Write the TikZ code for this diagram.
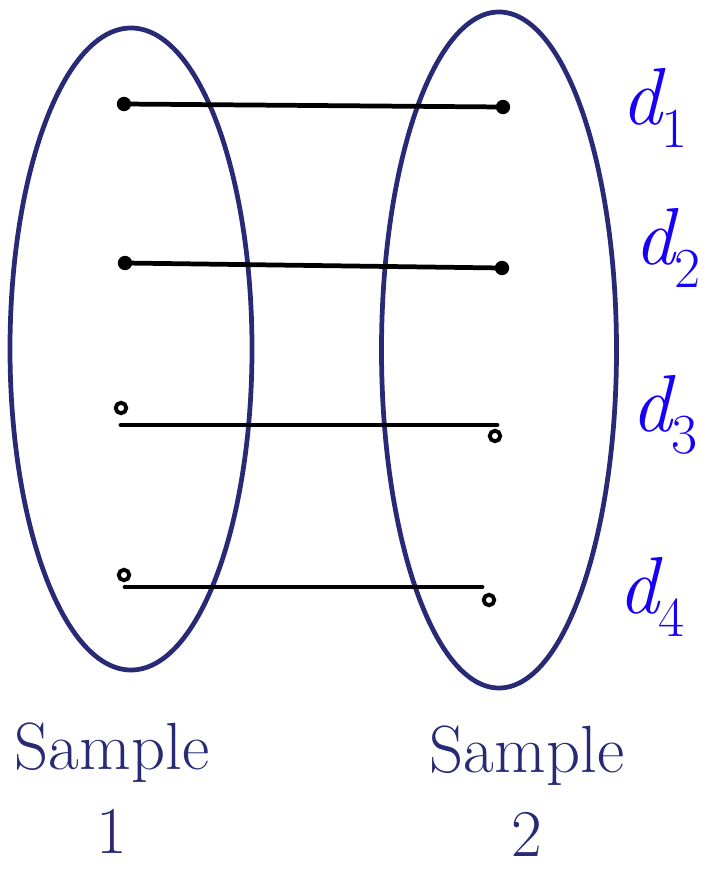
\documentclass[tikz,border=0pt]{standalone}
\usepackage{tikz}
\usetikzlibrary{shapes.geometric}
\definecolor{smpnavy}{RGB}{40,42,118}
\definecolor{smpblue}{RGB}{22,0,250}

\begin{document}
\begin{tikzpicture}[
    x=0.2mm, y=-0.2mm,
    set/.style={ellipse, draw=smpnavy, line width=2.7pt, inner sep=0pt},
    dot/.style={circle, draw, fill=black, line width=1.6pt, inner sep=0pt, minimum size=2.3mm},
    hollow/.style={circle, draw, fill=white, line width=2.2pt, inner sep=0pt, minimum size=2.1mm},
    pair/.style={line width=2.7pt, line cap=round},
    dlab/.style={text=smpblue, font=\fontsize{46}{46}\selectfont\itshape},
    slab/.style={text=smpnavy, align=center, inner sep=0pt, font=\fontsize{38}{48}\selectfont}
  ]
    \useasboundingbox (0,0) rectangle (713,871);

    \node[set, minimum width=4.84cm, minimum height=12.84cm] (s1) at (131,349) {};
    \node[set, minimum width=4.7cm, minimum height=13.52cm] (s2) at (499,350) {};

    \node[dot] (a1) at (124,104) {};
    \node[dot] (b1) at (503,107) {};
    \node[dot] (a2) at (125,263) {};
    \node[dot] (b2) at (502,268) {};
    \node[hollow] (a3) at (121,408) {};
    \node[hollow] (b3) at (495,436) {};
    \node[hollow] (a4) at (124,575) {};
    \node[hollow] (b4) at (489,600) {};

    \coordinate (l3a) at (121,425);
    \coordinate (l3b) at (497,425);
    \coordinate (l4a) at (125,587);
    \coordinate (l4b) at (482,587);

    \draw[pair] (a1.center) -- (b1.center);
    \draw[pair] (a2.center) -- (b2.center);
    \draw[pair] (l3a) -- (l3b);
    \draw[pair] (l4a) -- (l4b);

    \node[dlab] (d1) at (655,108) {d\textsubscript{\upshape 1}};
    \node[dlab] (d2) at (668,248) {d\textsubscript{\upshape 2}};
    \node[dlab] (d3) at (665,415) {d\textsubscript{\upshape 3}};
    \node[dlab] (d4) at (652,597) {d\textsubscript{\upshape 4}};

    \node[slab] (n1) at (112,788) {Sample\\1};
    \node[slab] (n2) at (527,791) {Sample\\2};
\end{tikzpicture}
\end{document}
